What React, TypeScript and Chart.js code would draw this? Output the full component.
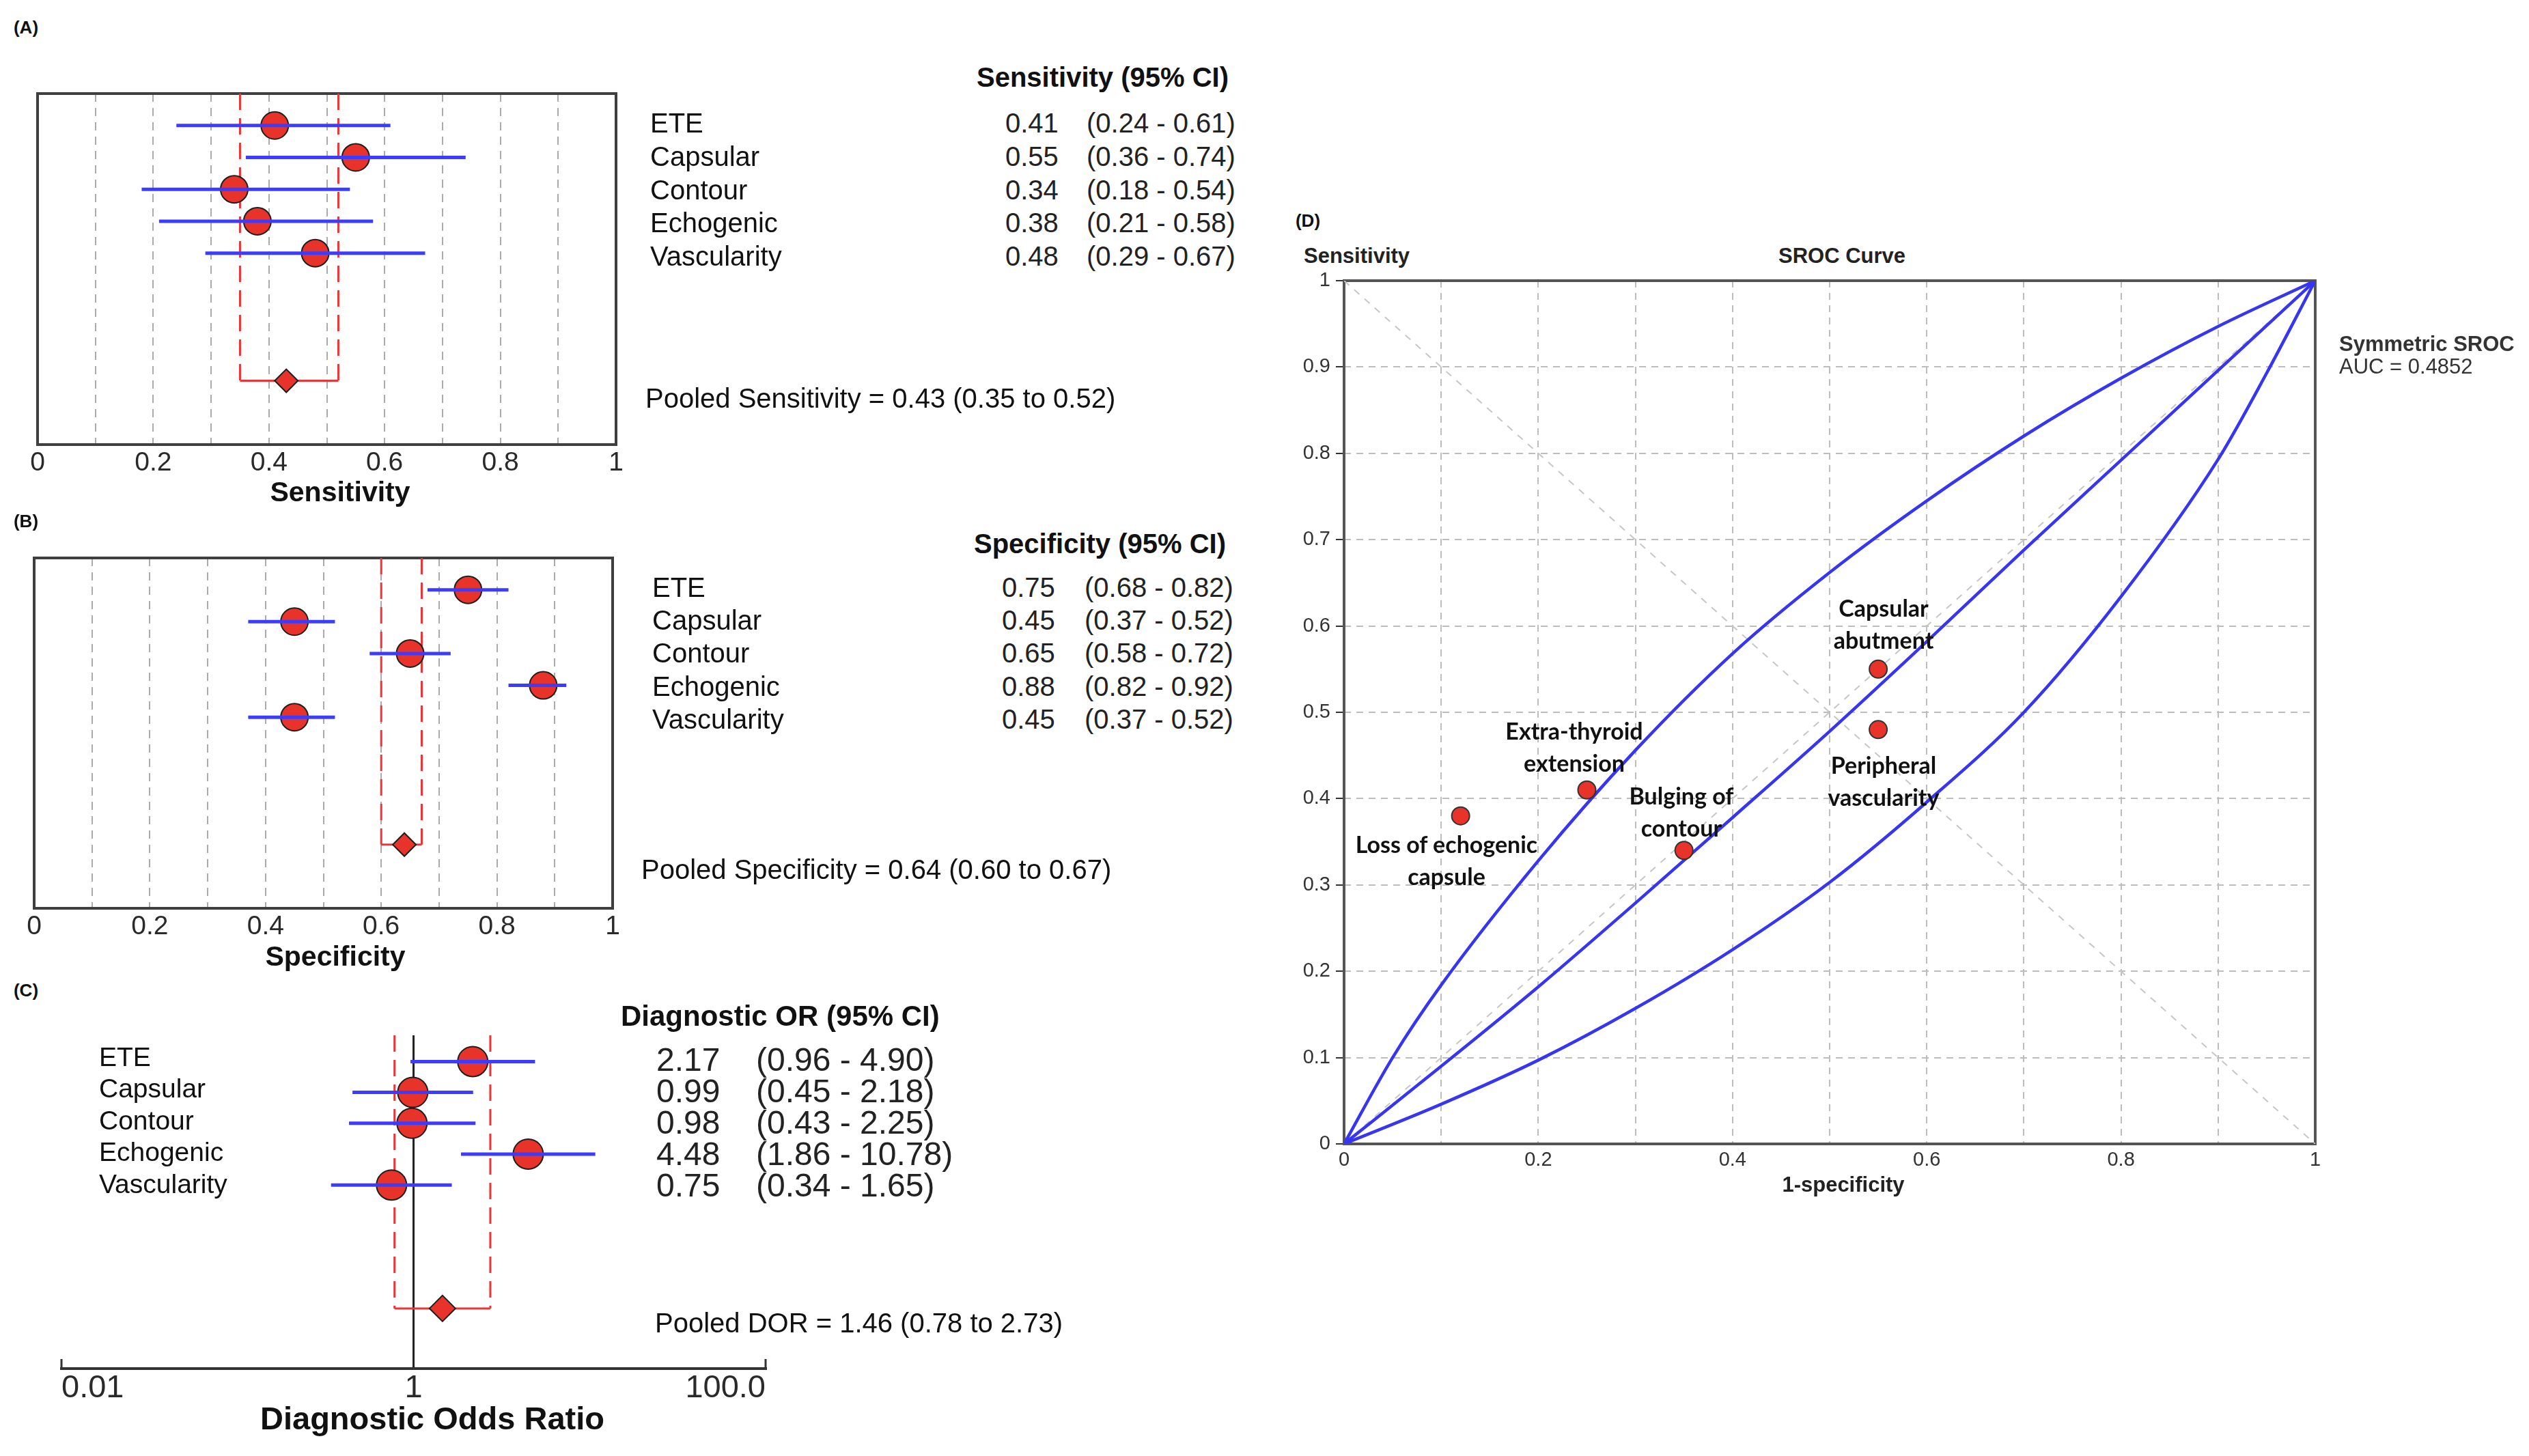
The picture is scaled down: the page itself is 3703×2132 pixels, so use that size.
import React, { useEffect, useRef } from 'react';
import { Chart, registerables } from 'chart.js';

Chart.register(...registerables);

// ---------------- DATA ----------------
const studies = ['ETE', 'Capsular', 'Contour', 'Echogenic', 'Vascularity'];

const sensValues = [0.41, 0.55, 0.34, 0.38, 0.48];
const sensLower = [0.24, 0.36, 0.18, 0.21, 0.29];
const sensUpper = [0.61, 0.74, 0.54, 0.58, 0.67];
const pooledSens = 0.43;
const pooledSensLower = 0.35;
const pooledSensUpper = 0.52;

const specValues = [0.75, 0.45, 0.65, 0.88, 0.45];
const specLower = [0.68, 0.37, 0.58, 0.82, 0.37];
const specUpper = [0.82, 0.52, 0.72, 0.92, 0.52];
const pooledSpec = 0.64;
const pooledSpecLower = 0.6;
const pooledSpecUpper = 0.67;

const dorValues = [2.17, 0.99, 0.98, 4.48, 0.75];
const dorLower = [0.96, 0.45, 0.43, 1.86, 0.34];
const dorUpper = [4.9, 2.18, 2.25, 10.78, 1.65];
const pooledDor = 1.46;
const pooledDorLower = 0.78;
const pooledDorUpper = 2.73;

const unitTicks = [0, 0.1, 0.2, 0.3, 0.4, 0.5, 0.6, 0.7, 0.8, 0.9, 1];
const unitTickLabels = ['0', '', '0.2', '', '0.4', '', '0.6', '', '0.8', '', '1'];
const srocYTickLabels = ['0', '0.1', '0.2', '0.3', '0.4', '0.5', '0.6', '0.7', '0.8', '0.9', '1'];
const dorTicks = [0.01, 1, 100];
const dorTickLabels = ['0.01', '1', '100.0'];

const srocNames = [
  ['Extra-thyroid', 'extension'],
  ['Capsular', 'abutment'],
  ['Bulging of', 'contour'],
  ['Loss of echogenic', 'capsule'],
  ['Peripheral', 'vascularity'],
];
const srocFpr = [0.25, 0.55, 0.35, 0.12, 0.55];
const srocTpr = [0.41, 0.55, 0.34, 0.38, 0.48];

const upperFpr = [0, 0.05, 0.1, 0.2, 0.3, 0.4, 0.5, 0.6, 0.7, 0.8, 0.9, 1];
const upperTpr = [0, 0.1, 0.184, 0.328, 0.456, 0.568, 0.662, 0.745, 0.82, 0.887, 0.947, 1];
const midFpr = [0, 0.1, 0.2, 0.3, 0.4, 0.5, 0.6, 0.7, 0.8, 0.9, 1];
const midTpr = [0, 0.09, 0.182, 0.279, 0.378, 0.478, 0.582, 0.688, 0.792, 0.896, 1];
const lowerFpr = [0, 0.1, 0.2, 0.3, 0.4, 0.5, 0.6, 0.7, 0.8, 0.9, 0.95, 1];
const lowerTpr = [0, 0.046, 0.097, 0.157, 0.225, 0.303, 0.396, 0.5, 0.634, 0.793, 0.893, 1];
const diagX = [0, 1];
const diagY = [0, 1];
const antiDiagY = [1, 0];
const aucText = 'AUC = 0.4852';

// ---------------- STYLE ----------------
const FONT = '"Liberation Sans", Arial, Helvetica, sans-serif';
const ANNOT_FONT = 'Lato, "Open Sans", sans-serif';
const RED = '#e8332b';
const BLUE = '#3c3cff';
const MARK_BORDER = '#1e1e1e';
const POOL_RED = '#ee3535';
const POOLED_ROW = 8;

Chart.defaults.font.family = FONT;

const f2 = (v: number) => v.toFixed(2);

const boxPlugin = (color: string, width: number) => ({
  id: 'boxFrame',
  beforeDatasetsDraw(chart: any) {
    const { ctx, chartArea: a } = chart;
    ctx.save();
    ctx.strokeStyle = color;
    ctx.lineWidth = width;
    ctx.strokeRect(a.left, a.top, a.right - a.left, a.bottom - a.top);
    ctx.restore();
  },
});

const endTicksPlugin = {
  id: 'endTicks',
  afterDraw(chart: any) {
    const s = chart.scales.x;
    const { ctx } = chart;
    const y = chart.chartArea.bottom;
    ctx.save();
    ctx.strokeStyle = '#333';
    ctx.lineWidth = 3;
    [s.min, s.max].forEach((v: number) => {
      const px = s.getPixelForValue(v);
      ctx.beginPath();
      ctx.moveTo(px, y);
      ctx.lineTo(px, y - 14);
      ctx.stroke();
    });
    ctx.restore();
  },
};

const lineDs = (label: string, pts: { x: number; y: number }[], color: string, width: number, dash: number[], order: number) => ({
  label,
  data: pts,
  showLine: true,
  borderColor: color,
  borderWidth: width,
  borderDash: dash,
  pointRadius: 0,
  order,
});

function forestDatasets(
  values: number[],
  lower: number[],
  upper: number[],
  pooled: number,
  pLo: number,
  pHi: number,
  yMin: number,
  markerR: number,
  diamondR: number
) {
  const ci = studies.map((s, i) =>
    lineDs(s + ' CI', [
      { x: lower[i], y: i },
      { x: upper[i], y: i },
    ], BLUE, 5, [], 0)
  );
  return [
    ...ci,
    {
      label: 'estimates',
      data: values.map((v, i) => ({ x: v, y: i })),
      pointRadius: markerR,
      pointBackgroundColor: RED,
      pointBorderColor: MARK_BORDER,
      pointBorderWidth: 2,
      order: 1,
    },
    lineDs('pooled lower', [
      { x: pLo, y: yMin },
      { x: pLo, y: POOLED_ROW },
    ], POOL_RED, 3, [24, 12], 3),
    lineDs('pooled upper', [
      { x: pHi, y: yMin },
      { x: pHi, y: POOLED_ROW },
    ], POOL_RED, 3, [24, 12], 3),
    lineDs('pooled span', [
      { x: pLo, y: POOLED_ROW },
      { x: pHi, y: POOLED_ROW },
    ], POOL_RED, 3, [], 3),
    {
      label: 'pooled',
      data: [{ x: pooled, y: POOLED_ROW }],
      pointStyle: 'rectRot',
      pointRadius: diamondR,
      pointBackgroundColor: RED,
      pointBorderColor: MARK_BORDER,
      pointBorderWidth: 2,
      order: 0,
    },
  ];
}

function proportionForest(
  values: number[],
  lower: number[],
  upper: number[],
  pooled: number,
  pLo: number,
  pHi: number,
  padding: any
) {
  const yMin = -1;
  return {
    type: 'scatter',
    data: { datasets: forestDatasets(values, lower, upper, pooled, pLo, pHi, yMin, 20, 17) },
    options: {
      animation: false,
      responsive: false,
      maintainAspectRatio: false,
      layout: { padding },
      plugins: { legend: { display: false }, tooltip: { enabled: false } },
      scales: {
        x: {
          type: 'linear',
          min: 0,
          max: 1,
          afterBuildTicks: (s: any) => {
            s.ticks = unitTicks.map((v) => ({ value: v }));
          },
          afterFit: (s: any) => {
            s.height = 60;
          },
          ticks: {
            autoSkip: false,
            maxRotation: 0,
            padding: 8,
            color: '#2a2a2a',
            font: { size: 39, family: FONT, lineHeight: 1 },
            callback: (_v: any, i: number) => unitTickLabels[i],
          },
          grid: { color: '#ababab', lineWidth: 2, drawTicks: false },
          border: { display: false, dash: [12, 9] },
        },
        y: { type: 'linear', reverse: true, min: yMin, max: 10, display: false },
      },
    },
    plugins: [boxPlugin('#3f3f3f', 4)],
  };
}

const configA = () =>
  proportionForest(sensValues, sensLower, sensUpper, pooledSens, pooledSensLower, pooledSensUpper, {
    left: 55,
    right: 58,
    top: 47,
    bottom: 39,
  });

const configB = () =>
  proportionForest(specValues, specLower, specUpper, pooledSpec, pooledSpecLower, pooledSpecUpper, {
    left: 50,
    right: 63,
    top: 47,
    bottom: 20,
  });

const configC = () => {
  const yMin = -0.85;
  return {
    type: 'scatter',
    data: { datasets: forestDatasets(dorValues, dorLower, dorUpper, pooledDor, pooledDorLower, pooledDorUpper, yMin, 22, 19) },
    options: {
      animation: false,
      responsive: false,
      maintainAspectRatio: false,
      layout: { padding: { left: 90, right: 129, top: 36, bottom: 16 } },
      plugins: { legend: { display: false }, tooltip: { enabled: false } },
      scales: {
        x: {
          type: 'logarithmic',
          min: 0.01,
          max: 100,
          afterBuildTicks: (s: any) => {
            s.ticks = dorTicks.map((v) => ({ value: v }));
          },
          afterFit: (s: any) => {
            s.height = 60;
          },
          ticks: {
            autoSkip: false,
            maxRotation: 0,
            align: 'inner',
            padding: 6,
            color: '#2a2a2a',
            font: { size: 47, family: FONT, lineHeight: 1 },
            callback: (_v: any, i: number) => dorTickLabels[i],
          },
          grid: {
            drawTicks: false,
            lineWidth: 3,
            color: (c: any) => (c.tick && c.tick.value === 1 ? '#222' : 'rgba(0,0,0,0)'),
          },
          border: { display: true, color: '#333', width: 4 },
        },
        y: { type: 'linear', reverse: true, min: yMin, max: 9.95, display: false },
      },
    },
    plugins: [endTicksPlugin],
  };
};

const curveDs = (label: string, xs: number[], ys: number[]) => ({
  label,
  data: xs.map((x, i) => ({ x, y: ys[i] })),
  showLine: true,
  borderColor: '#3535f2',
  borderWidth: 4.5,
  pointRadius: 0,
  cubicInterpolationMode: 'monotone',
  order: 2,
});

const configD = () => ({
  type: 'scatter',
  data: {
    datasets: [
      lineDs('diagonal', diagX.map((x, i) => ({ x, y: diagY[i] })), '#c6c6c6', 2, [10, 10], 5),
      lineDs('anti-diagonal', diagX.map((x, i) => ({ x, y: antiDiagY[i] })), '#c6c6c6', 2, [10, 10], 5),
      curveDs('upper', upperFpr, upperTpr),
      curveDs('SROC', midFpr, midTpr),
      curveDs('lower', lowerFpr, lowerTpr),
      {
        label: 'studies',
        data: srocFpr.map((x, i) => ({ x, y: srocTpr[i] })),
        pointRadius: 13,
        pointBackgroundColor: RED,
        pointBorderColor: '#333',
        pointBorderWidth: 2,
        order: 0,
      },
    ],
  },
  options: {
    animation: false,
    responsive: false,
    maintainAspectRatio: false,
    layout: { padding: { left: 18, right: 70, top: 31, bottom: 15 } },
    plugins: { legend: { display: false }, tooltip: { enabled: false } },
    scales: {
      x: {
        type: 'linear',
        min: 0,
        max: 1,
        afterBuildTicks: (s: any) => {
          s.ticks = unitTicks.map((v) => ({ value: v }));
        },
        afterFit: (s: any) => {
          s.height = 50;
        },
        ticks: {
          autoSkip: false,
          maxRotation: 0,
          padding: 9,
          color: '#333',
          font: { size: 29, family: FONT, lineHeight: 1 },
          callback: (_v: any, i: number) => unitTickLabels[i],
        },
        grid: { color: '#bdbdbd', lineWidth: 2, drawTicks: false },
        border: { display: false, dash: [10, 8] },
      },
      y: {
        type: 'linear',
        min: 0,
        max: 1,
        afterBuildTicks: (s: any) => {
          s.ticks = unitTicks.map((v) => ({ value: v }));
        },
        afterFit: (s: any) => {
          s.width = 90;
        },
        ticks: {
          autoSkip: false,
          padding: 8,
          color: '#333',
          font: { size: 29, family: FONT, lineHeight: 1 },
          callback: (_v: any, i: number) => srocYTickLabels[i],
        },
        grid: {
          color: '#bdbdbd',
          lineWidth: 2,
          drawTicks: true,
          tickLength: 12,
          tickColor: '#333',
          tickWidth: 2,
          tickBorderDash: [],
        },
        border: { display: false, dash: [10, 8] },
      },
    },
  },
  plugins: [boxPlugin('#555', 4)],
});

// ---------------- COMPONENTS ----------------
function ChartCanvas(props: { config: () => any; left: number; top: number; width: number; height: number }) {
  const ref = useRef<HTMLCanvasElement>(null);
  useEffect(() => {
    const chart = new Chart(ref.current as HTMLCanvasElement, props.config());
    return () => chart.destroy();
  }, []);
  return (
    <canvas
      ref={ref}
      width={props.width}
      height={props.height}
      style={{ position: 'absolute', left: props.left, top: props.top, width: props.width, height: props.height }}
    />
  );
}

function Txt(props: {
  x: number;
  y: number;
  size: number;
  bold?: boolean;
  align?: 'left' | 'center';
  family?: string;
  color?: string;
  children: any;
}) {
  const { x, y, size, bold, align = 'left', family = FONT, color = '#111' } = props;
  const style: React.CSSProperties = {
    position: 'absolute',
    left: x,
    top: y - size / 2,
    fontSize: size,
    lineHeight: `${size}px`,
    fontFamily: family,
    fontWeight: bold ? 700 : 400,
    color,
    whiteSpace: 'pre',
  };
  if (align === 'center') style.transform = 'translateX(-50%)';
  return <div style={style}>{props.children}</div>;
}

const annotPos = [
  { x: 2305, y: 1070 },
  { x: 2758, y: 890 },
  { x: 2462, y: 1165 },
  { x: 2118, y: 1236 },
  { x: 2758, y: 1120 },
];

export default function App() {
  return (
    <div
      style={{
        position: 'absolute',
        left: 0,
        top: 0,
        width: 3703,
        height: 2132,
        overflow: 'hidden',
        background: '#fff',
      }}
    >
      {/* Panel A */}
      <Txt x={38} y={40} size={26} bold align="center">(A)</Txt>
      <ChartCanvas config={configA} left={0} top={90} width={960} height={660} />
      <Txt x={498} y={720} size={41} bold align="center">Sensitivity</Txt>
      <Txt x={1430} y={113} size={40} bold>Sensitivity (95% CI)</Txt>
      {studies.map((s, i) => (
        <React.Fragment key={'a' + s}>
          <Txt x={952} y={180 + i * 48.8} size={40}>{s}</Txt>
          <Txt x={1472} y={180 + i * 48.8} size={40} color="#222">{f2(sensValues[i])}</Txt>
          <Txt x={1591} y={180 + i * 48.8} size={40} color="#222">{`(${f2(sensLower[i])} - ${f2(sensUpper[i])})`}</Txt>
        </React.Fragment>
      ))}
      <Txt x={945} y={583} size={40}>{`Pooled Sensitivity = ${f2(pooledSens)} (${f2(pooledSensLower)} to ${f2(pooledSensUpper)})`}</Txt>

      {/* Panel B */}
      <Txt x={38} y={763} size={26} bold align="center">(B)</Txt>
      <ChartCanvas config={configB} left={0} top={770} width={960} height={640} />
      <Txt x={491} y={1400} size={41} bold align="center">Specificity</Txt>
      <Txt x={1426} y={796} size={40} bold>Specificity (95% CI)</Txt>
      {studies.map((s, i) => (
        <React.Fragment key={'b' + s}>
          <Txt x={955} y={860 + i * 48.2} size={40}>{s}</Txt>
          <Txt x={1467} y={860 + i * 48.2} size={40} color="#222">{f2(specValues[i])}</Txt>
          <Txt x={1588} y={860 + i * 48.2} size={40} color="#222">{`(${f2(specLower[i])} - ${f2(specUpper[i])})`}</Txt>
        </React.Fragment>
      ))}
      <Txt x={939} y={1273} size={40}>{`Pooled Specificity = ${f2(pooledSpec)} (${f2(pooledSpecLower)} to ${f2(pooledSpecUpper)})`}</Txt>

      {/* Panel C */}
      <Txt x={38} y={1450} size={26} bold align="center">(C)</Txt>
      <ChartCanvas config={configC} left={0} top={1480} width={1250} height={600} />
      <Txt x={633} y={2076} size={47} bold align="center">Diagnostic Odds Ratio</Txt>
      <Txt x={909} y={1488} size={42} bold>Diagnostic OR (95% CI)</Txt>
      {studies.map((s, i) => (
        <React.Fragment key={'c' + s}>
          <Txt x={145} y={1547 + i * 46.5} size={39}>{s}</Txt>
          <Txt x={961} y={1552 + i * 46} size={48} color="#222">{f2(dorValues[i])}</Txt>
          <Txt x={1107} y={1552 + i * 46} size={48} color="#222">{`(${f2(dorLower[i])} - ${f2(dorUpper[i])})`}</Txt>
        </React.Fragment>
      ))}
      <Txt x={959} y={1937} size={40}>{`Pooled DOR = ${f2(pooledDor)} (${f2(pooledDorLower)} to ${f2(pooledDorUpper)})`}</Txt>

      {/* Panel D */}
      <Txt x={1915} y={323} size={26} bold align="center">(D)</Txt>
      <Txt x={1909} y={374} size={31} bold color="#222">Sensitivity</Txt>
      <Txt x={2697} y={374} size={31} bold align="center" color="#222">SROC Curve</Txt>
      <ChartCanvas config={configD} left={1860} top={380} width={1600} height={1360} />
      <Txt x={2699} y={1734} size={31} bold align="center" color="#222">1-specificity</Txt>
      <Txt x={3425} y={503} size={31} bold color="#333">Symmetric SROC</Txt>
      <Txt x={3425} y={536} size={31} color="#333">{aucText}</Txt>
      {srocNames.map((lines, i) => (
        <React.Fragment key={'d' + i}>
          <Txt x={annotPos[i].x} y={annotPos[i].y} size={34} bold align="center" family={ANNOT_FONT}>{lines[0]}</Txt>
          <Txt x={annotPos[i].x} y={annotPos[i].y + 47} size={34} bold align="center" family={ANNOT_FONT}>{lines[1]}</Txt>
        </React.Fragment>
      ))}
    </div>
  );
}
